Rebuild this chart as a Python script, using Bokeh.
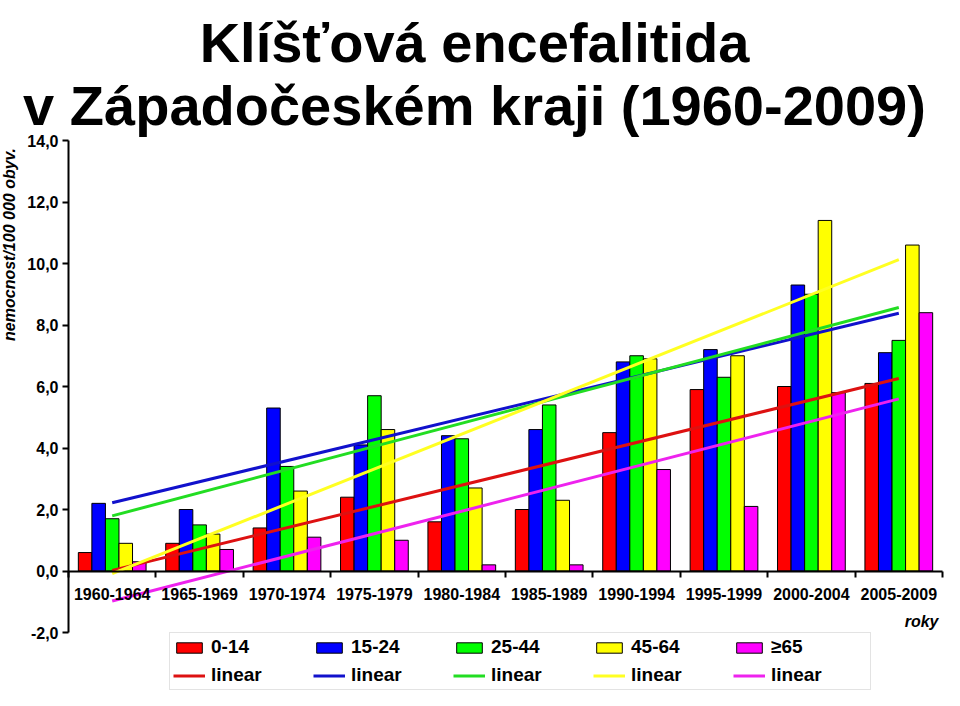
import numpy as np
from bokeh.plotting import figure
from bokeh.models import Range1d, FixedTicker, LinearAxis, Label, Legend, LegendItem
from bokeh.embed import file_html
from bokeh.resources import INLINE

# ---------------- data ----------------
periods = ["1960-1964", "1965-1969", "1970-1974", "1975-1979", "1980-1984",
           "1985-1989", "1990-1994", "1995-1999", "2000-2004", "2005-2009"]
age_groups = ["0-14", "15-24", "25-44", "45-64", "\u226565"]
rate_0_14 = [0.6, 0.9, 1.4, 2.4, 1.6, 2.0, 4.5, 5.9, 6.0, 6.1]
rate_15_24 = [2.2, 2.0, 5.3, 4.1, 4.4, 4.6, 6.8, 7.2, 9.3, 7.1]
rate_25_44 = [1.7, 1.5, 3.4, 5.7, 4.3, 5.4, 7.0, 6.3, 9.0, 7.5]
rate_45_64 = [0.9, 1.2, 2.6, 4.6, 2.7, 2.3, 6.9, 7.0, 11.4, 10.6]
rate_65 = [0.3, 0.7, 1.1, 1.0, 0.2, 0.2, 3.3, 2.1, 5.8, 8.4]
y_ticks = [-2, 0, 2, 4, 6, 8, 10, 12, 14]
y_tick_labels = ["-2,0", "0,0", "2,0", "4,0", "6,0", "8,0", "10,0", "12,0", "14,0"]
trend_label = "linear"
title_1 = "Kl\u00ed\u0161\u0165ov\u00e1 encefalitida"
title_2 = "v Z\u00e1pado\u010desk\u00e9m kraji (1960-2009)"
y_title = "nemocnost/100 000 obyv."
x_title = "roky"

# ---------------- layout / style ----------------
FONT = "Liberation Sans"
bar_colors = ["#ff0000", "#0000ff", "#00ff00", "#ffff00", "#ff00ff"]
trend_colors = ["#dd1111", "#1111cc", "#22dd22", "#ffff22", "#ee22ee"]
series = [rate_0_14, rate_15_24, rate_25_44, rate_45_64, rate_65]

W, H = 944, 690
n = len(periods)
y_lo, y_hi = y_ticks[0], y_ticks[-1]
# pixel geometry of the plotting area inside the canvas
plot_left, plot_right = 68, 942
plot_top, plot_bottom = 140, 632
ux = (plot_right - plot_left) / n
uy = (plot_bottom - plot_top) / (y_hi - y_lo)
x_range = Range1d(-plot_left / ux, (W - plot_left) / ux)
y_range = Range1d(y_lo - (H - plot_bottom) / uy, y_hi + plot_top / uy)

centers = np.arange(n) + 0.5
bar_w = 0.155
offsets = (np.arange(len(series)) - (len(series) - 1) / 2) * bar_w

p = figure(width=W, height=H, x_range=x_range, y_range=y_range,
           output_backend="svg", toolbar_location=None,
           x_axis_location=None, y_axis_location=None, min_border=0)
p.outline_line_color = None
p.grid.visible = False
p.background_fill_color = "white"
p.border_fill_color = "white"

bar_renderers = []
for k, vals in enumerate(series):
    r = p.vbar(x=centers + offsets[k], top=vals, bottom=0, width=bar_w,
               fill_color=bar_colors[k], line_color="black", line_width=1)
    bar_renderers.append(r)

line_renderers = []
for k, vals in enumerate(series):
    slope, intercept = np.polyfit(centers, np.array(vals), 1)
    xs = [centers[0], centers[-1]]
    ys = [slope * x + intercept for x in xs]
    r = p.line(xs, ys, line_color=trend_colors[k], line_width=3)
    line_renderers.append(r)

# y axis at x = 0, spanning -2 .. 14
ya = LinearAxis(ticker=FixedTicker(ticks=y_ticks), fixed_location=0, bounds=(y_lo, y_hi),
                major_label_overrides={float(t): s for t, s in zip(y_ticks, y_tick_labels)},
                axis_line_width=2, axis_line_color="black",
                major_tick_in=0, major_tick_out=6, major_tick_line_width=2,
                minor_tick_line_color=None, major_label_standoff=4,
                major_label_text_font=FONT, major_label_text_font_style="bold",
                major_label_text_font_size="16px", major_label_text_color="black")
p.add_layout(ya, "left")

# x axis at y = 0: boundary ticks + centered category labels
tick_axis = LinearAxis(ticker=FixedTicker(ticks=list(range(n + 1))), fixed_location=0,
                       bounds=(0, n), axis_line_width=2, axis_line_color="black",
                       major_tick_in=0, major_tick_out=6, major_tick_line_width=2,
                       minor_tick_line_color=None, major_label_text_color=None)
label_axis = LinearAxis(ticker=FixedTicker(ticks=[float(c) for c in centers]),
                        major_label_overrides={float(c): periods[i] for i, c in enumerate(centers)},
                        fixed_location=0, bounds=(0, n), axis_line_color=None,
                        major_tick_line_color=None, minor_tick_line_color=None,
                        major_tick_in=0, major_tick_out=0,
                        major_label_standoff=17, major_label_text_font=FONT,
                        major_label_text_font_style="bold", major_label_text_font_size="16px",
                        major_label_text_color="black")
p.add_layout(tick_axis, "below")
p.add_layout(label_axis, "below")

# legend below the axes
items = [LegendItem(label=age_groups[k], renderers=[bar_renderers[k]]) for k in range(len(series))]
items += [LegendItem(label=trend_label, renderers=[line_renderers[k]]) for k in range(len(series))]
legend = Legend(items=items, orientation="horizontal", ncols=5, location=(169, 0),
                glyph_width=32, glyph_height=13, label_standoff=6, label_width=96,
                label_height=20, spacing=6, padding=3, margin=0,
                border_line_color="#c8c8c8", border_line_width=1,
                background_fill_color="white", background_fill_alpha=1,
                label_text_font=FONT, label_text_font_style="bold",
                label_text_font_size="19px", label_text_color="black")
p.add_layout(legend)

# titles / axis titles
title_x = (474 - plot_left) / ux
p.add_layout(Label(x=title_x, y=y_hi + (plot_top - 42) / uy, text=title_1, text_align="center",
                   text_baseline="alphabetic", text_font=FONT, text_font_style="bold",
                   text_font_size="56px", text_color="black"))
p.add_layout(Label(x=title_x, y=y_hi + (plot_top - 105) / uy, text=title_2, text_align="center",
                   text_baseline="alphabetic", text_font=FONT, text_font_style="bold",
                   text_font_size="56px", text_color="black"))
p.add_layout(Label(x=(9 - plot_left) / ux, y=10.62, text=y_title, angle=np.pi / 2,
                   text_align="center", text_baseline="middle", text_font=FONT,
                   text_font_style="bold italic", text_font_size="16px", text_color="black"))
p.add_layout(Label(x=(938 - plot_left) / ux, y=-1.63, text=x_title, text_align="right",
                   text_baseline="middle", text_font=FONT, text_font_style="bold italic",
                   text_font_size="16px", text_color="black"))

open("out.html", "w").write(file_html(p, INLINE))
